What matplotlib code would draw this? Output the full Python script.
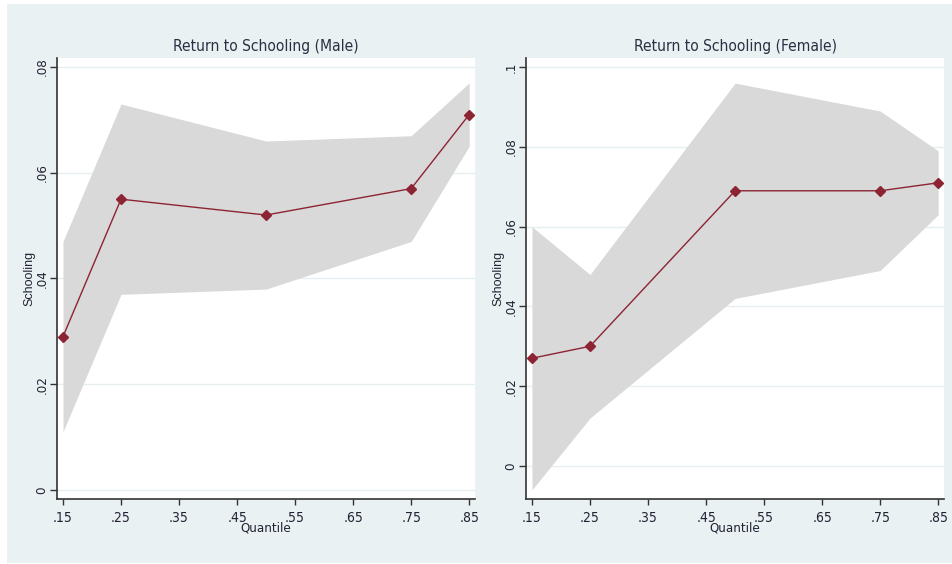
import matplotlib.pyplot as plt
from matplotlib import font_manager as fm
from matplotlib.patches import Rectangle

# quantiles
quantiles = [0.15, 0.25, 0.50, 0.75, 0.85]
xtick_vals = [0.15, 0.25, 0.35, 0.45, 0.55, 0.65, 0.75, 0.85]

# male coefficient and confidence band
male_coef = [0.029, 0.055, 0.052, 0.057, 0.071]
male_upper = [0.047, 0.073, 0.066, 0.067, 0.077]
male_lower = [0.011, 0.037, 0.038, 0.047, 0.065]
male_yticks = [0, 0.02, 0.04, 0.06, 0.08]

# female coefficient and confidence band
female_coef = [0.027, 0.030, 0.069, 0.069, 0.071]
female_upper = [0.060, 0.048, 0.096, 0.089, 0.079]
female_lower = [-0.006, 0.012, 0.042, 0.049, 0.063]
female_yticks = [0, 0.02, 0.04, 0.06, 0.08, 0.1]

BG = "#EAF1F3"
LINE = "#8C2433"
FILL = "#D9D9D9"
TXT = "#222233"

W, H = 952, 564


def pick_narrow():
    """Stata draws its labels in a condensed face; find one if installed."""
    cands = [f for f in fm.fontManager.ttflist
             if ("Narrow" in f.name or "Condensed" in f.name or str(f.stretch) in ("condensed", "semi-condensed"))
             and f.style == "normal" and f.weight in (400, "normal", "regular")]
    cands.sort(key=lambda f: (0 if "Liberation Sans Narrow" in f.name else 1))
    if cands:
        return cands[0].fname, True
    return None, False


NARROW_FILE, HAVE_NARROW = pick_narrow()


def nfont(size):
    if HAVE_NARROW:
        return fm.FontProperties(fname=NARROW_FILE, size=size)
    return fm.FontProperties(family=["Liberation Sans", "DejaVu Sans"], size=size * 0.85)


def fmt(v):
    if v == 0:
        return "0"
    s = f"{v:.2f}".rstrip("0")
    return s.lstrip("0") if s.startswith("0") else s


def panel(fig, rect_px, x, coef, lo, hi, yticks, ylim, title):
    l, t, r, b = rect_px
    ax = fig.add_axes([l / W, 1 - b / H, (r - l) / W, (b - t) / H])
    ax.set_facecolor("white")
    ax.fill_between(x, lo, hi, color=FILL, linewidth=0, zorder=2)
    ax.plot(x, coef, color=LINE, linewidth=1.0, marker="D", markersize=4.8, zorder=3)
    ax.set_xlim(0.1397, 0.86)
    ax.set_ylim(*ylim)

    ax.set_xticks(xtick_vals)
    ax.set_xticklabels([fmt(v) for v in xtick_vals], fontproperties=nfont(10), color=TXT)
    ax.set_yticks(yticks)
    ax.set_yticklabels([fmt(v) for v in yticks], fontproperties=nfont(9.5),
                       rotation=90, va="center", color=TXT)
    ax.grid(axis="y", color="#E6EEF0", linewidth=1.0, zorder=1)
    ax.set_axisbelow(True)
    for s in ("top", "right"):
        ax.spines[s].set_visible(False)
    for s in ("left", "bottom"):
        ax.spines[s].set_color("#333333")
        ax.spines[s].set_linewidth(1.2)
    ax.tick_params(axis="x", direction="out", length=4, width=1, color="#333333", pad=5)
    ax.tick_params(axis="y", direction="out", length=5, width=1, color="#333333", pad=1)

    ax.set_title(title, fontproperties=nfont(11.2), color="#2A3042", pad=5)
    ax.set_xlabel("Quantile", fontproperties=nfont(9.5), color=TXT)
    ax.xaxis.set_label_coords(0.5, -0.052)
    ax.set_ylabel("Schooling", family=["Liberation Sans", "DejaVu Sans"], fontsize=9, color=TXT)
    ax.yaxis.set_label_coords(-0.052, 0.5)
    return ax


fig = plt.figure(figsize=(W / 100, H / 100), dpi=100)
fig.patch.set_facecolor("white")
fig.add_artist(Rectangle((7 / W, 1 / H), 1 - 7 / W, 1 - 5 / H, transform=fig.transFigure,
                         facecolor=BG, edgecolor="none", zorder=0))

panel(fig, (57, 58, 475, 499), quantiles, male_coef, male_lower, male_upper,
      male_yticks, (-0.0017, 0.0817), "Return to Schooling (Male)")
panel(fig, (526, 58, 944, 499), quantiles, female_coef, female_lower, female_upper,
      female_yticks, (-0.0083, 0.1023), "Return to Schooling (Female)")

fig.savefig("out.png", dpi=100, facecolor=fig.get_facecolor())
